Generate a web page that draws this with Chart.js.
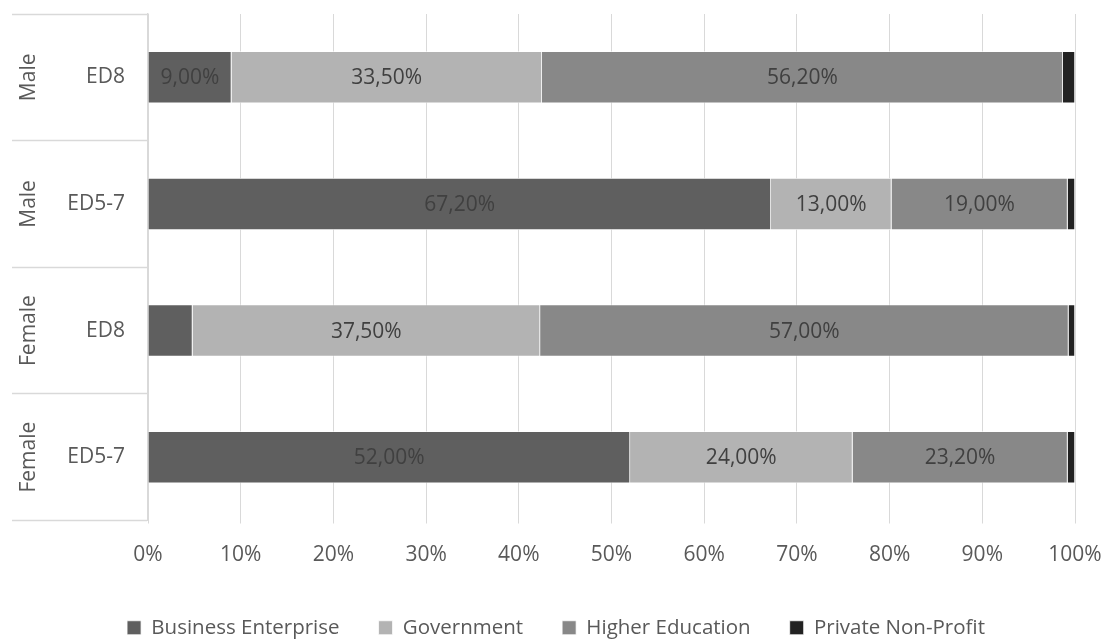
<!DOCTYPE html>
<html>
<head>
<meta charset="utf-8">
<title>Sector by gender and education level</title>
<script src="https://cdn.jsdelivr.net/npm/chart.js@4.4.1/dist/chart.umd.min.js"></script>
<style>
  html, body { margin: 0; padding: 0; background: #fff; }
  #wrap { width: 1105px; height: 639px; }
</style>
</head>
<body>
<div id="wrap"><canvas id="chart"></canvas></div>
<script>
// ---- data ----
const genders = ["Male", "Male", "Female", "Female"];
const levels = ["ED8", "ED5-7", "ED8", "ED5-7"];
const business = [9.0, 67.2, 4.8, 52.0];
const government = [33.5, 13.0, 37.5, 24.0];
const higherEd = [56.2, 19.0, 57.0, 23.2];
const privateNonProfit = [1.3, 0.8, 0.7, 0.8];

const FONT = "'Open Sans', 'Noto Sans', sans-serif";
const FONT_SIZE = 21;
const GRID = "#d9d9d9";
const AXIS_TEXT = "#595959";

// percentages with a decimal comma
const fmt = (v) => v.toFixed(2).replace(".", ",") + "%";

// value labels centred inside the segments
const segmentLabels = {
  id: "segmentLabels",
  afterDatasetsDraw(chart) {
    const ctx = chart.ctx;
    ctx.save();
    ctx.font = FONT_SIZE + "px " + FONT;
    ctx.fillStyle = "#404040";
    ctx.textAlign = "center";
    ctx.textBaseline = "middle";
    chart.data.datasets.forEach((ds, di) => {
      if (!ds.showValues) return;
      chart.getDatasetMeta(di).data.forEach((bar, i) => {
        const v = ds.data[i];
        if (v < 8) return;
        const p = bar.getProps(["x", "y", "base"], true);
        ctx.fillText(fmt(v), (p.x + p.base) / 2, p.y + 1);
      });
    });
    ctx.restore();
  }
};

// outer group labels (gender), rotated
const groupLabels = {
  id: "groupLabels",
  afterDraw(chart) {
    const ctx = chart.ctx;
    const y = chart.scales.y;
    ctx.save();
    ctx.font = FONT_SIZE + "px " + FONT;
    ctx.fillStyle = AXIS_TEXT;
    ctx.textAlign = "center";
    ctx.textBaseline = "middle";
    genders.forEach((g, i) => {
      ctx.save();
      ctx.translate(29, y.getPixelForValue(i));
      ctx.rotate(-Math.PI / 2);
      ctx.fillText(g, 0, 0);
      ctx.restore();
    });
    ctx.restore();
  }
};

const common = { borderColor: "#ffffff", borderWidth: 0.75, categoryPercentage: 0.79, barPercentage: 0.52 };

new Chart(document.getElementById("chart"), {
  type: "bar",
  data: {
    labels: levels,
    datasets: [
      { label: "Business Enterprise", data: business, backgroundColor: "#5f5f5f", showValues: true, ...common },
      { label: "Government", data: government, backgroundColor: "#b3b3b3", showValues: true, ...common },
      { label: "Higher Education", data: higherEd, backgroundColor: "#888888", showValues: true, ...common },
      { label: "Private Non-Profit", data: privateNonProfit, backgroundColor: "#222222", showValues: false, ...common }
    ]
  },
  options: {
    indexAxis: "y",
    responsive: true,
    maintainAspectRatio: false,
    animation: false,
    layout: { padding: { top: 14, right: 30, left: 37, bottom: -9 } },
    plugins: {
      legend: {
        position: "bottom",
        labels: {
          color: AXIS_TEXT,
          boxWidth: 14,
          boxHeight: 14,
          padding: 39,
          font: { family: FONT, size: 20.5 }
        }
      },
      tooltip: { enabled: false }
    },
    scales: {
      x: {
        stacked: true,
        min: 0,
        max: 100,
        ticks: {
          stepSize: 10,
          color: AXIS_TEXT,
          padding: 19,
          font: { family: FONT, size: FONT_SIZE },
          callback: (v) => v + "%"
        },
        grid: { color: GRID, tickLength: 3 },
        border: { display: false },
        afterFit: (s) => {
          s.height = 58;
          s.paddingLeft = 0;
          s.paddingRight = 0;
        }
      },
      y: {
        stacked: true,
        ticks: {
          color: AXIS_TEXT,
          padding: -113,
          font: { family: FONT, size: FONT_SIZE }
        },
        grid: { color: GRID, drawOnChartArea: false, tickLength: 136, tickWidth: 1.5 },
        border: { display: true, color: GRID, width: 1.5 },
        afterFit: (s) => { s.width = 111; }
      }
    }
  },
  plugins: [segmentLabels, groupLabels]
});
</script>
</body>
</html>
